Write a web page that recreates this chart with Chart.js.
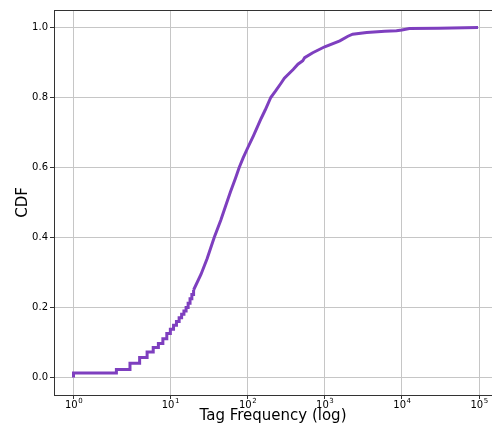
<!DOCTYPE html>
<html>
<head>
<meta charset="utf-8">
<script src="https://cdn.jsdelivr.net/npm/chart.js@4.4.1/dist/chart.umd.min.js"></script>
<style>
  html, body { margin: 0; padding: 0; background: #fff; overflow: hidden; }
</style>
</head>
<body>
<canvas id="cdfChart" width="492" height="428"></canvas>
<script>
// low end of the curve, drawn as steps (one step per integer frequency)
const stepFreq = [1, 1, 2, 3, 4, 5, 6, 7, 8, 9, 10, 11, 12, 13, 14, 15, 16, 17, 18, 19, 20];
const stepCdf = [0, 0.013, 0.023, 0.041, 0.057, 0.073, 0.086, 0.097, 0.111, 0.126, 0.138,
                 0.149, 0.160, 0.171, 0.181, 0.190, 0.200, 0.212, 0.225, 0.237, 0.250];

// rest of the curve, steps too small to see
const tailFreq = [20, 25, 30, 37, 45, 52, 60, 70, 78, 88, 100, 120, 150, 170, 200, 230, 270, 300,
                  390, 450, 520, 550, 700, 1000, 1570, 2000, 2300, 3500, 6000, 8500, 10000, 12500,
                  30000, 97000];
const tailCdf = [0.250, 0.295, 0.340, 0.400, 0.449, 0.490, 0.530, 0.570, 0.600, 0.628, 0.655, 0.692,
                 0.740, 0.765, 0.800, 0.818, 0.840, 0.855, 0.880, 0.895, 0.905, 0.914, 0.928, 0.945,
                 0.962, 0.975, 0.981, 0.986, 0.989, 0.991, 0.993, 0.997, 0.998, 1.000];

const xTicks = [1, 10, 100, 1000, 10000, 100000];
const xTickBase = "10";
const xTickExp = ["0", "1", "2", "3", "4", "5"];
const yTicks = [0, 0.2, 0.4, 0.6, 0.8, 1.0];

const lineColor = "#7e3fbf";
const gridColor = "#c6c6c6";
const spineColor = "#333333";

// symlog transform (linthresh 2, linscale 1), same as the original axis
const LT = 2, LS = 1 / (1 - 1 / 10);
function fwd(v) { return v < LT ? v * LS : LT * (LS + Math.log10(v / LT)); }
function inv(t) { return t < LT * LS ? t / LS : LT * Math.pow(10, t / LT - LS); }

class SymlogScale extends Chart.Scale {
    static id = "symlog";
    static defaults = {};
    determineDataLimits() {
        const { min, max } = this.getMinMax(true);
        this.min = this.options.min ?? min;
        this.max = this.options.max ?? max;
    }
    buildTicks() {
        return xTicks.map(v => ({ value: v }));
    }
    getLabelForValue(v) { return String(v); }
    configure() {
        super.configure();
        this._t0 = fwd(this.min);
        this._t1 = fwd(this.max);
    }
    getPixelForValue(v) {
        return this.getPixelForDecimal((fwd(v) - this._t0) / (this._t1 - this._t0));
    }
    getValueForPixel(p) {
        return inv(this._t0 + this.getDecimalForPixel(p) * (this._t1 - this._t0));
    }
}
Chart.register(SymlogScale);

// "10" with a raised exponent, like the mathtext labels of the original
const powerLabels = {
    id: "powerLabels",
    afterDraw(chart) {
        const s = chart.scales.x, ctx = chart.ctx;
        ctx.save();
        ctx.fillStyle = "#000";
        ctx.textAlign = "left";
        ctx.textBaseline = "alphabetic";
        s.ticks.forEach((t, i) => {
            const px = s.getPixelForValue(t.value);
            ctx.font = "10px 'DejaVu Sans'";
            const wb = ctx.measureText(xTickBase).width;
            ctx.font = "7px 'DejaVu Sans'";
            const we = ctx.measureText(xTickExp[i]).width;
            const x0 = px - (wb + we) / 2;
            ctx.font = "10px 'DejaVu Sans'";
            ctx.fillText(xTickBase, x0, s.top + 12.5);
            ctx.font = "7px 'DejaVu Sans'";
            ctx.fillText(xTickExp[i], x0 + wb + 0.5, s.top + 7.5);
        });
        ctx.restore();
    }
};

const toPoints = (xs, ys) => xs.map((x, i) => ({ x: x, y: ys[i] }));

new Chart(document.getElementById("cdfChart").getContext("2d"), {
    type: "line",
    data: {
        datasets: [{
            data: toPoints(stepFreq, stepCdf),
            borderColor: lineColor,
            borderWidth: 3,
            pointRadius: 0,
            stepped: true
        }, {
            data: toPoints(tailFreq, tailCdf),
            borderColor: lineColor,
            borderWidth: 3,
            pointRadius: 0,
            tension: 0
        }]
    },
    plugins: [powerLabels],
    options: {
        responsive: false,
        animation: false,
        layout: { padding: { top: 10, right: 0, left: 0, bottom: 0 } },
        plugins: {
            legend: { display: false },
            tooltip: { enabled: false }
        },
        scales: {
            x: {
                type: "symlog",
                position: "bottom",
                min: 0.545,
                max: 147000,
                afterFit: s => { s.height = 33; },
                border: { display: true, color: spineColor, width: 1 },
                grid: { color: gridColor, lineWidth: 1, tickLength: 4, tickColor: spineColor },
                ticks: {
                    autoSkip: false,
                    maxRotation: 0,
                    padding: 1,
                    font: { family: "DejaVu Sans", size: 10 },
                    callback: () => ""
                },
                title: {
                    display: true,
                    text: "Tag Frequency (log)",
                    color: "#000",
                    font: { family: "DejaVu Sans", size: 15 },
                    padding: { bottom: 3, top: 0 }
                }
            },
            xTop: {
                type: "linear",
                position: "top",
                min: 0,
                max: 1,
                afterFit: s => { s.height = 0; },
                border: { display: true, color: spineColor, width: 1 },
                grid: { display: false, drawTicks: false },
                ticks: { display: false }
            },
            y: {
                type: "linear",
                min: -0.05,
                max: 1.05,
                afterFit: s => { s.width = 54; },
                afterBuildTicks: s => { s.ticks = yTicks.map(v => ({ value: v })); },
                border: { display: true, color: spineColor, width: 1 },
                grid: { color: gridColor, lineWidth: 1, tickLength: 4, tickColor: spineColor },
                ticks: {
                    padding: 2,
                    color: "#000",
                    font: { family: "DejaVu Sans", size: 10 },
                    callback: v => v.toFixed(1)
                },
                title: {
                    display: true,
                    text: "CDF",
                    color: "#000",
                    font: { family: "DejaVu Sans", size: 15 },
                    padding: { top: 14, bottom: 0 }
                }
            }
        }
    }
});
</script>
</body>
</html>
